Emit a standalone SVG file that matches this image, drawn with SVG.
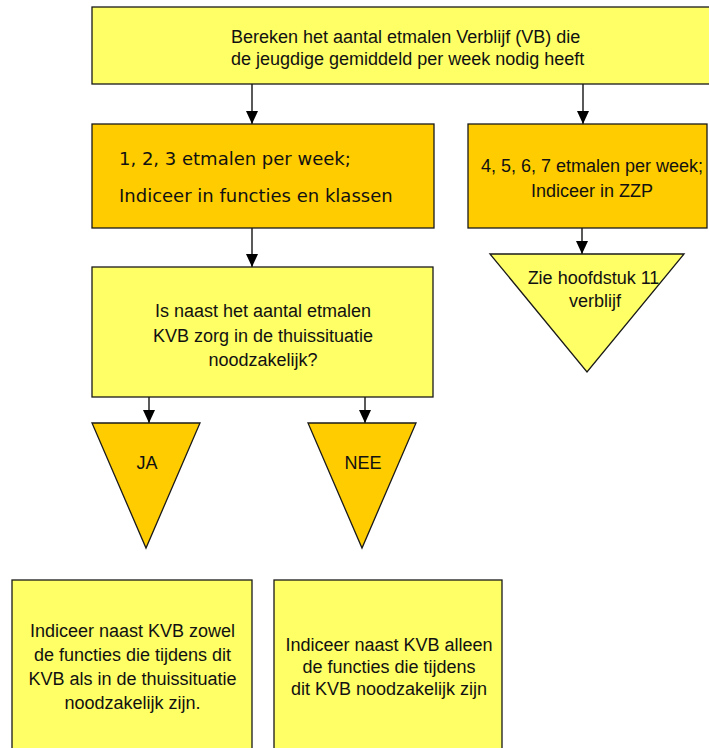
<svg xmlns="http://www.w3.org/2000/svg" width="709" height="748" viewBox="0 0 709 748">
<defs>
<style>
.y{fill:#FFFF66;stroke:#1a1a1a;stroke-width:1.3}
.o{fill:#FFCC00;stroke:#1a1a1a;stroke-width:1.3}
.t{font-family:"Liberation Sans",Arial,sans-serif;font-size:18px;fill:#111}
.c{text-anchor:middle}
.v{font-family:"DejaVu Sans",Verdana,sans-serif;font-size:18px;fill:#111}
.ln{stroke:#000;stroke-width:1.3;fill:none;marker-end:url(#ah)}
</style>
<marker id="ah" markerUnits="userSpaceOnUse" markerWidth="13" markerHeight="12" viewBox="0 0 13 12" refX="13" refY="6" orient="auto">
<path d="M0,0 L13,6 L0,12 Z" fill="#000"/>
</marker>
</defs>
<g id="connectors">
<line class="ln" x1="252" y1="84" x2="252" y2="124"/>
<line class="ln" x1="583" y1="84" x2="583" y2="124"/>
<line class="ln" x1="252" y1="228" x2="252" y2="267"/>
<line class="ln" x1="582" y1="228" x2="582" y2="254"/>
<line class="ln" x1="149" y1="397" x2="149" y2="423"/>
<line class="ln" x1="365" y1="397" x2="365" y2="423"/>
</g>
<g id="n-start">
<rect class="y" x="92" y="7" width="622" height="77"/>
<text class="t" x="231" y="43">Bereken het aantal etmalen Verblijf (VB) die</text>
<text class="t" x="231" y="65">de jeugdige gemiddeld per week nodig heeft</text>
</g>
<g id="n-123">
<rect class="o" x="92" y="124" width="342" height="104"/>
<text class="v" x="119" y="165">1, 2, 3 etmalen per week;</text>
<text class="v" x="119" y="202">Indiceer in functies en klassen</text>
</g>
<g id="n-4567">
<rect class="o" x="468" y="124" width="239" height="104"/>
<text class="t c" x="592" y="172">4, 5, 6, 7 etmalen per week;</text>
<text class="t c" x="592" y="197">Indiceer in ZZP</text>
</g>
<g id="n-hfst11">
<polygon class="y" points="490,254 684,254 587,372"/>
<text class="t c" x="593.5" y="284">Zie hoofdstuk 11</text>
<text class="t c" x="595" y="307">verblijf</text>
</g>
<g id="n-vraag">
<rect class="y" x="92" y="267" width="341" height="130"/>
<text class="t c" x="263" y="317">Is naast het aantal etmalen</text>
<text class="t c" x="263" y="342">KVB zorg in de thuissituatie</text>
<text class="t c" x="263" y="366">noodzakelijk?</text>
</g>
<g id="n-ja">
<polygon class="o" points="92,423 200,423 146,548"/>
<text class="t c" x="147" y="469">JA</text>
</g>
<g id="n-nee">
<polygon class="o" points="308,423 416,423 362,548"/>
<text class="t c" x="363" y="469">NEE</text>
</g>
<g id="n-zowel">
<rect class="y" x="12" y="580" width="240" height="180"/>
<text class="t c" x="132.5" y="637">Indiceer naast KVB zowel</text>
<text class="t c" x="132.5" y="661">de functies die tijdens dit</text>
<text class="t c" x="132.5" y="685">KVB als in de thuissituatie</text>
<text class="t c" x="132.5" y="709">noodzakelijk zijn.</text>
</g>
<g id="n-alleen">
<rect class="y" x="274" y="580" width="228" height="180"/>
<text class="t c" x="389" y="651">Indiceer naast KVB alleen</text>
<text class="t c" x="389" y="673">de functies die tijdens</text>
<text class="t c" x="389" y="695">dit KVB noodzakelijk zijn</text>
</g>
</svg>
